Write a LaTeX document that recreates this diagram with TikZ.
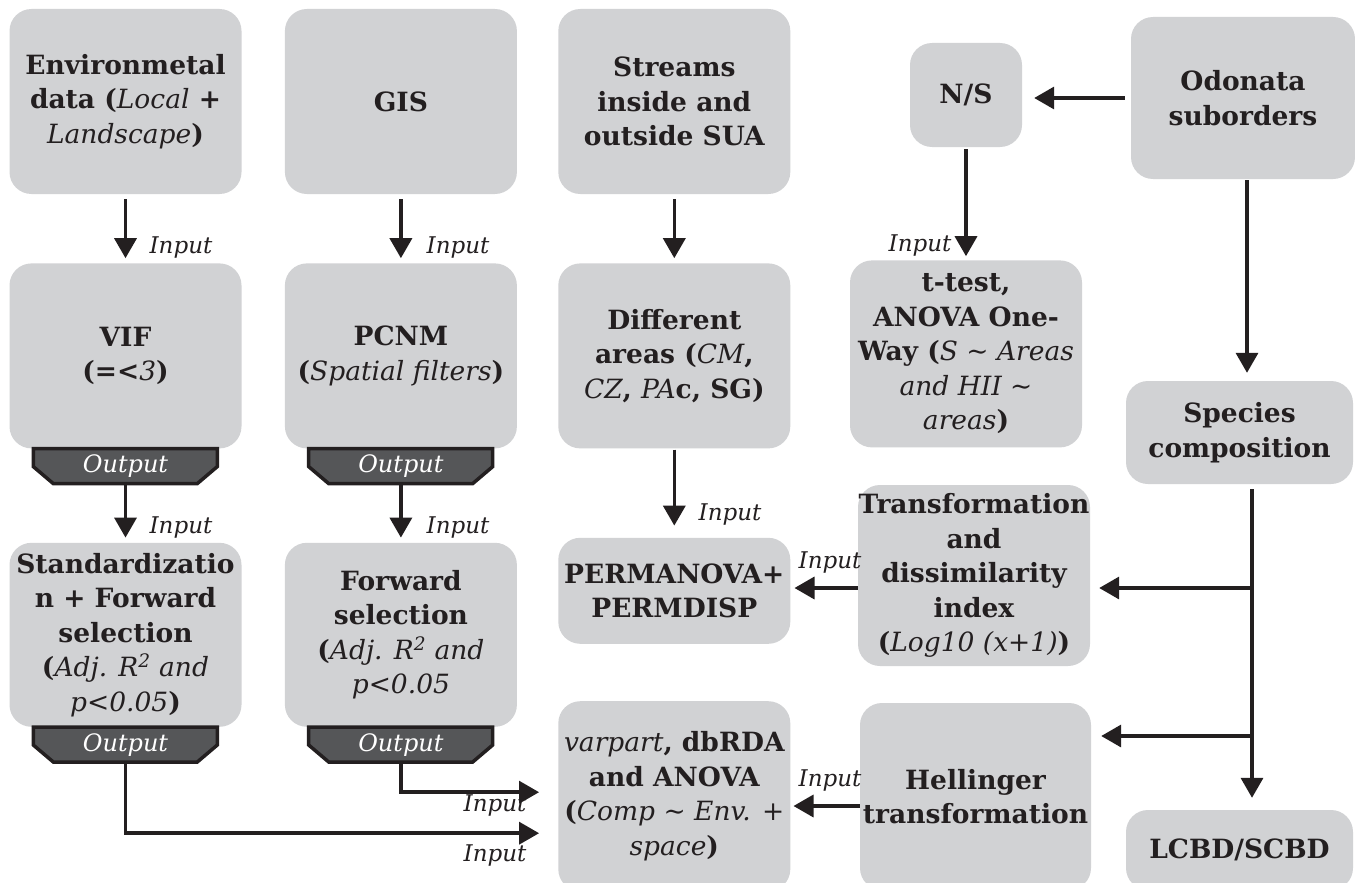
\documentclass[tikz,border=0pt]{standalone}
\usepackage{fontspec}
\setmainfont{DejaVu Serif}
\usepackage{xcolor}
\usepackage{tikz}
\usetikzlibrary{arrows.meta,positioning,calc}

\definecolor{boxgray}{HTML}{D1D2D4}
\definecolor{tabgray}{HTML}{555658}
\definecolor{inkblack}{HTML}{231F20}
\newcommand{\ital}[1]{{\normalfont\itshape #1}}
% dark "Output" tab under a box
\newcommand{\outtab}[2]{%
  \filldraw[tabline] ([xshift=24pt]#2.south west) -- ++(0,18) -- ++(20,17)
    -- ++(144,0) -- ++(20,-17) -- ++(0,-18) -- cycle;
  \node[tablbl, below=0pt of #2] (#1) {Output};}

\begin{document}
\begin{tikzpicture}[x=1pt, y=-1pt,
  box/.style={fill=boxgray, rounded corners=22pt, inner sep=0pt,
              minimum width=232pt, minimum height=185pt,
              align=center, text=inkblack,
              font=\fontsize{26.5}{34.5}\selectfont\bfseries},
  tabline/.style={draw=inkblack, fill=tabgray, line width=3.5pt, line join=miter},
  tablbl/.style={minimum width=184pt, minimum height=35pt, inner sep=0pt,
                 text=white, font=\fontsize{24}{24}\selectfont\itshape},
  arr/.style={-{Triangle[length=20pt, width=22pt]}, line width=3.5pt, draw=inkblack},
  lbl/.style={inner sep=0pt, text=inkblack, font=\fontsize{23}{23}\selectfont\itshape},
  node distance=69pt
]
\fill[white] (0,0) rectangle (1355,883);
\useasboundingbox (0,0) rectangle (1355,883);

% top row
\node[box] (env) at (125.5,101.5) {Environmetal\\data (\ital{Local} +\\\ital{Landscape})};
\node[box, right=43pt of env] (gis) {GIS};
\node[box, right=41pt of gis] (streams) {Streams\\inside and\\outside SUA};
\node[box, minimum width=112pt, minimum height=104pt] (ns) at (966,95) {N/S};
\node[box, minimum width=224pt, minimum height=162pt] (odonata) at (1243,98) {Odonata\\suborders};

% second row
\node[box, below=of env] (vif) {VIF\\(=<\ital{3})};
\node[box, below=of gis] (pcnm) {PCNM\\(\ital{Spatial filters})};
\node[box, below=of streams] (areas) {Different\\areas (\ital{CM},\\\ital{CZ}, \ital{PA}c, SG)};
\node[box, minimum height=187pt, below=113pt of ns] (ttest)
  {t-test,\\ANOVA One-\\Way (\ital{S \textasciitilde\ Areas}\\\ital{and HII \textasciitilde}\\\ital{areas})};
\node[box, minimum width=227pt, minimum height=103pt] (species) at (1239.5,432.5) {Species\\composition};
\outtab{vifout}{vif}
\outtab{pcnmout}{pcnm}

% third row
\node[box, minimum height=184pt, below=94pt of vif] (std)
  {Standardizatio\\n + Forward\\selection\\(\ital{Adj. R\textsuperscript{2} and}\\\ital{p<0.05})};
\node[box, minimum height=184pt, below=94pt of pcnm] (fwd)
  {Forward\\selection\\(\ital{Adj. R\textsuperscript{2} and}\\\ital{p<0.05}};
\node[box, minimum height=106pt, below=89pt of areas] (perm) {PERMANOVA+\\PERMDISP};
\node[box, minimum height=181pt] (trans) at (974,575.5)
  {Transformation\\and\\dissimilarity\\index\\(\ital{Log10 (x+1)})};
\outtab{stdout}{std}
\outtab{fwdout}{fwd}

% bottom row
\node[box, minimum height=190pt, below=57pt of perm] (varpart)
  {\ital{varpart}, dbRDA\\and ANOVA\\(\ital{Comp \textasciitilde\ Env. +}\\\ital{space})};
\node[box, minimum width=231pt, minimum height=187pt] (hell) at (975.5,796.5) {Hellinger\\transformation};
\node[box, minimum width=227pt, minimum height=80pt] (lcbd) at (1239.5,850) {LCBD/SCBD};

% helper points
\coordinate (odo) at ([xshift=4pt]odonata.south);
\coordinate (spine) at ([xshift=12.5pt]species.south);
\coordinate (tin) at ([yshift=-12.5pt]trans.east);
\coordinate (hin) at ([yshift=60.5pt]hell.east);
\coordinate (hout) at ([yshift=-9.5pt]hell.west);
\coordinate (vin1) at ([yshift=4pt]varpart.west);
\coordinate (vin2) at ([yshift=-37pt]varpart.west);

% connectors
\draw[arr, shorten <=5pt, shorten >=5pt] (env) -- (vif);
\draw[arr, shorten <=5pt, shorten >=5pt] (gis) -- (pcnm);
\draw[arr, shorten <=5pt, shorten >=5pt] (streams) -- (areas);
\draw[arr, shorten >=5pt] (vifout) -- (std);
\draw[arr, shorten >=5pt] (pcnmout) -- (fwd);
\draw[arr, shorten <=1pt, shorten >=12pt] (areas) -- (perm);
\draw[arr, shorten <=2pt, shorten >=4pt] (ns) -- (ttest);
\draw[arr, shorten <=6pt, shorten >=12pt] (odonata.west) -- (odonata.west -| ns.east);
\draw[arr, shorten <=1pt, shorten >=8pt] (odo) -- (odo |- species.north);
\draw[arr, shorten <=5pt, shorten >=12pt] (spine) -- (spine |- lcbd.north);
\draw[arr, shorten >=9pt] (spine |- tin) -- (tin);
\draw[arr, shorten >=10pt] (spine |- hin) -- (hin);
\draw[arr, shorten >=4pt] (tin -| trans.west) -- (tin -| perm.east);
\draw[arr, shorten >=3pt] (hout) -- (hout -| varpart.east);
\draw[arr, shorten >=19pt] (fwdout) |- (vin1);
\draw[arr, shorten >=19pt] (stdout) |- (vin2);

% input labels
\node[lbl] (in1) at (181,248) {Input};
\node[lbl] (in2) at (458,248) {Input};
\node[lbl] (in3) at (181,528) {Input};
\node[lbl] (in4) at (458,528) {Input};
\node[lbl] (in5) at (920,246) {Input};
\node[lbl] (in6) at (730,515) {Input};
\node[lbl] (in7) at (830,563) {Input};
\node[lbl] (in8) at (830,781) {Input};
\node[lbl] (in9) at (495,806) {Input};
\node[lbl] (in10) at (495,855) {Input};
\end{tikzpicture}
\end{document}
